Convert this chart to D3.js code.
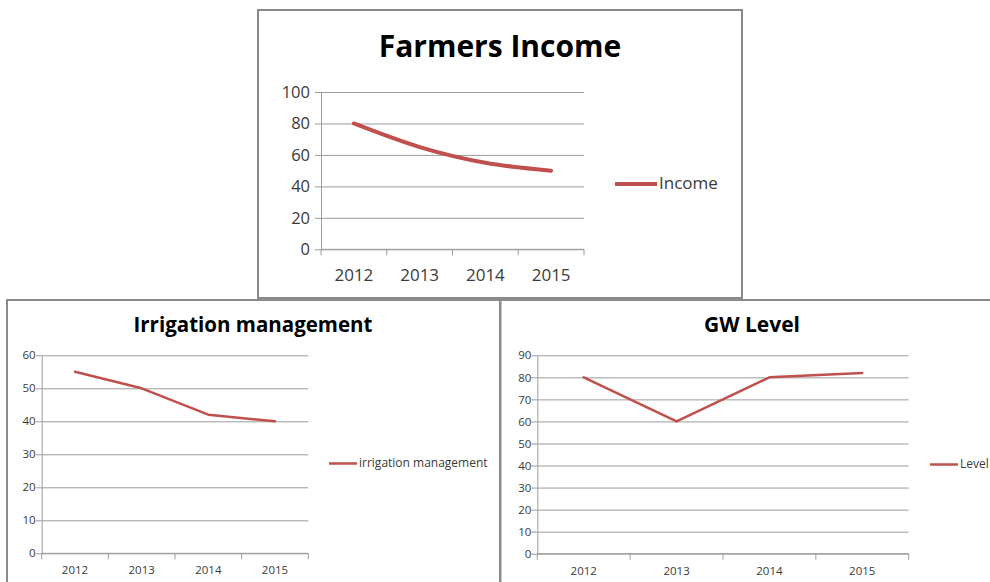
<!DOCTYPE html>
<html>
<head>
<meta charset="utf-8">
<script src="https://cdn.jsdelivr.net/npm/d3@7"></script>
<style>
  html, body { margin: 0; padding: 0; background: #fff; }
  svg { display: block; font-family: "Open Sans", Lato, sans-serif; }
</style>
</head>
<body>
<div id="chart"></div>
<script>
  // Data
  const years = ["2012", "2013", "2014", "2015"];
  const incomeValues = [80, 65, 55, 50];
  const irrigationValues = [55, 50, 42, 40];
  const levelValues = [80, 60, 80, 82];
  const incomeTicks = [0, 20, 40, 60, 80, 100];
  const irrigationTicks = [0, 10, 20, 30, 40, 50, 60];
  const levelTicks = [0, 10, 20, 30, 40, 50, 60, 70, 80, 90];

  const width = 990;
  const height = 582;
  const lineColor = "#c0504d";
  const gridColor = "#9c9c9c";
  const borderColor = "#8a8a8a";
  const textColor = "#3a3a3a";
  const font = "'Open Sans', Lato, sans-serif";

  const svg = d3.select("#chart")
    .append("svg")
    .attr("width", width)
    .attr("height", height);

  // Panel layouts (pixel boxes for each chart)
  const panels = [
    {
      title: "Farmers Income", name: "Income", values: incomeValues, ticks: incomeTicks,
      box: [258, 10, 742, 298], plot: [321, 92, 584, 249.3],
      titleX: 500, titleY: 57, titleSize: 30, tickSize: 16.5, yearSize: 17, yearOffset: 31.5,
      labelGap: 11, legend: [615, 657, 184], legendSize: 17, lineWidth: 4, smooth: true
    },
    {
      title: "Irrigation management", name: "irrigation management", values: irrigationValues, ticks: irrigationTicks,
      box: [7, 300, 500, 600], plot: [41.7, 355.3, 308.3, 553.3],
      titleX: 253, titleY: 332, titleSize: 20.5, tickSize: 11.5, yearSize: 11.5, yearOffset: 21,
      labelGap: 6, legend: [329, 357, 463.5], legendSize: 12, lineWidth: 2.5, smooth: false
    },
    {
      title: "GW Level", name: "Level", values: levelValues, ticks: levelTicks,
      box: [500.5, 300, 1000, 600], plot: [537.3, 355.3, 908.7, 553.7],
      titleX: 752, titleY: 332, titleSize: 21, tickSize: 11.5, yearSize: 11.5, yearOffset: 21,
      labelGap: 6, legend: [930, 958, 464.5], legendSize: 12, lineWidth: 2.5, smooth: false
    }
  ];

  panels.forEach(p => {
    const [bx0, by0, bx1, by1] = p.box;
    const [px0, py0, px1, py1] = p.plot;
    const g = svg.append("g");

    // Frame
    g.append("rect")
      .attr("x", bx0).attr("y", by0)
      .attr("width", bx1 - bx0).attr("height", by1 - by0)
      .attr("fill", "#fff")
      .attr("stroke", borderColor)
      .attr("stroke-width", 2);

    const x = d3.scaleBand().domain(years).range([px0, px1]).padding(0);
    const y = d3.scaleLinear().domain([0, d3.max(p.ticks)]).range([py1, py0]);

    // Gridlines
    g.append("g")
      .attr("transform", `translate(${px0},0)`)
      .call(d3.axisLeft(y).tickValues(p.ticks).tickSize(-(px1 - px0)).tickFormat(""))
      .call(a => a.select(".domain").remove())
      .call(a => a.selectAll(".tick line").attr("stroke", gridColor).attr("stroke-width", 1));

    // Y axis with outside ticks
    g.append("g")
      .attr("transform", `translate(${px0},0)`)
      .call(d3.axisLeft(y).tickValues(p.ticks).tickSize(6).tickSizeOuter(0).tickPadding(p.labelGap - 6))
      .call(a => a.select(".domain").attr("stroke", gridColor))
      .call(a => a.selectAll(".tick line").attr("stroke", gridColor))
      .call(a => a.selectAll(".tick text")
        .attr("font-size", p.tickSize + "px")
        .attr("font-family", font)
        .attr("fill", textColor));

    // X axis: labels at category centres, tick marks at boundaries
    g.append("g")
      .attr("transform", `translate(0,${py1})`)
      .call(d3.axisBottom(x).tickSize(0))
      .call(a => a.select(".domain").remove())
      .call(a => a.selectAll(".tick text")
        .attr("dy", 0)
        .attr("y", p.yearOffset)
        .attr("font-size", p.yearSize + "px")
        .attr("font-family", font)
        .attr("fill", textColor));

    g.append("line")
      .attr("x1", px0).attr("x2", px1)
      .attr("y1", py1).attr("y2", py1)
      .attr("stroke", gridColor);

    const bounds = years.map(d => x(d)).concat([x.range()[1]]);
    g.selectAll(".xtick")
      .data(bounds)
      .enter()
      .append("line")
      .attr("class", "xtick")
      .attr("x1", d => d).attr("x2", d => d)
      .attr("y1", py1).attr("y2", py1 + 6)
      .attr("stroke", gridColor);

    // Series line
    const line = d3.line()
      .x((d, i) => x(years[i]) + x.bandwidth() / 2)
      .y(d => y(d))
      .curve(p.smooth ? d3.curveMonotoneX : d3.curveLinear);

    g.append("path")
      .datum(p.values)
      .attr("d", line)
      .attr("fill", "none")
      .attr("stroke", lineColor)
      .attr("stroke-width", p.lineWidth)
      .attr("stroke-linecap", "round")
      .attr("stroke-linejoin", "round");

    // Title
    g.append("text")
      .attr("x", p.titleX)
      .attr("y", p.titleY)
      .attr("text-anchor", "middle")
      .attr("font-size", p.titleSize + "px")
      .attr("font-weight", "bold")
      .attr("fill", "#000")
      .text(p.title);

    // Legend
    const [lx0, lx1, ly] = p.legend;
    g.append("line")
      .attr("x1", lx0).attr("x2", lx1)
      .attr("y1", ly).attr("y2", ly)
      .attr("stroke", lineColor)
      .attr("stroke-width", p.lineWidth);

    g.append("text")
      .attr("x", lx1 + 2)
      .attr("y", ly)
      .attr("dominant-baseline", "middle")
      .attr("font-size", p.legendSize + "px")
      .attr("fill", textColor)
      .text(p.name);
  });
</script>
</body>
</html>
